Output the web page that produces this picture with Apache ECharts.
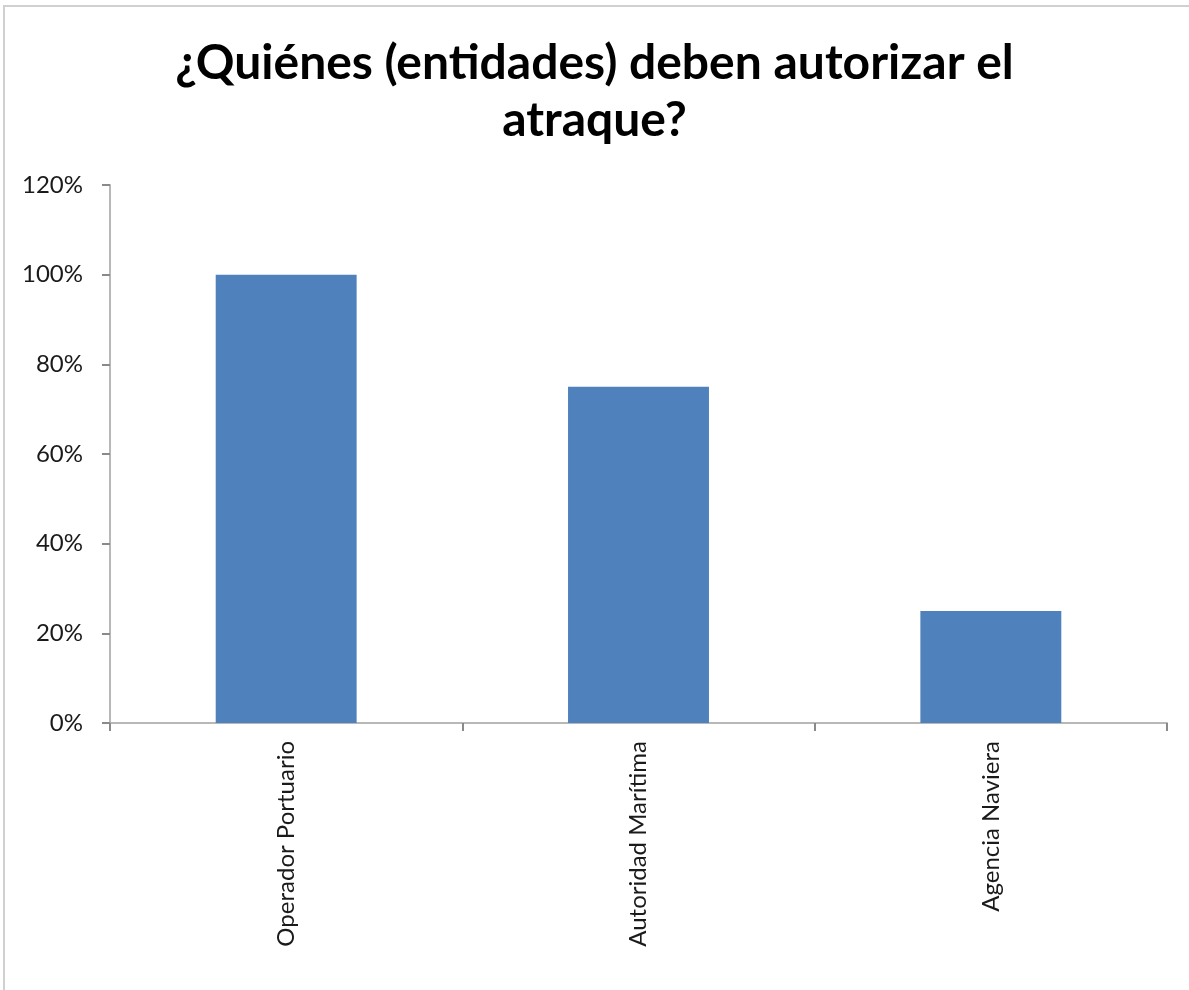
<!DOCTYPE html>
<html>
<head>
<meta charset="utf-8">
<script src="https://cdn.jsdelivr.net/npm/echarts@6/dist/echarts.min.js"></script>
<style>
  html, body { margin: 0; padding: 0; background: #fff; }
  .frame {
    position: absolute; left: 3px; top: 5px; width: 1200px; height: 983px;
    border-left: 2px solid #d0d0d0; border-top: 2px solid #d0d0d0; border-bottom: 1px solid #e0e0e0;
  }
  #chart { position: absolute; left: 0; top: 0; width: 1189px; height: 990px; }
</style>
</head>
<body>
<div class="frame"></div>
<div id="chart"></div>
<script>
const categories = ['Operador Portuario', 'Autoridad Marítima', 'Agencia Naviera']
const values = [100, 75, 25]
const titleText = '¿Quiénes (entidades) deben autorizar el\natraque?'

const chart = echarts.init(document.getElementById('chart'))
const font = 'Lato, "Open Sans", sans-serif'
chart.setOption({
  animation: false,
  title: {
    text: titleText,
    left: 'center',
    top: 30,
    textStyle: {
      fontFamily: font,
      fontSize: 48,
      fontWeight: 'bold',
      color: '#000',
      lineHeight: 57
    }
  },
  grid: { left: 110, right: 22, top: 185, bottom: 267 },
  xAxis: {
    type: 'category',
    data: categories,
    axisLine: { lineStyle: { color: '#b8b8b8', width: 2 } },
    axisTick: { show: true, length: 8, lineStyle: { color: '#8a8a8a', width: 2 } },
    axisLabel: {
      rotate: 90,
      interval: 0,
      margin: 18,
      fontFamily: font,
      fontSize: 24,
      color: '#1a1a1a'
    }
  },
  yAxis: {
    type: 'value',
    min: 0,
    max: 120,
    interval: 20,
    axisLine: { show: true, lineStyle: { color: '#b8b8b8', width: 2 } },
    axisTick: { show: true, length: 8, lineStyle: { color: '#8a8a8a', width: 2 } },
    splitLine: { show: false },
    axisLabel: {
      formatter: '{value}%',
      margin: 27,
      fontFamily: font,
      fontSize: 24,
      color: '#1a1a1a'
    }
  },
  series: [{
    type: 'bar',
    data: values,
    barWidth: '40%',
    itemStyle: { color: '#4F81BD' }
  }]
})
</script>
</body>
</html>
